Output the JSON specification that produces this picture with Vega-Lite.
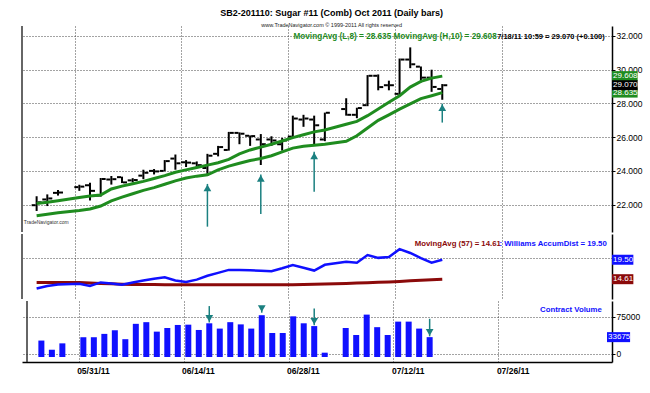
{
"$schema": "https://vega.github.io/schema/vega-lite/v6.json",
"background": "white",
"padding": {"left": 21, "top": 8, "right": 2, "bottom": 2},
"title": {"text": "SB2-201110:  Sugar #11 (Comb) Oct 2011  (Daily bars)", "subtitle": "www.TradeNavigator.com © 1999-2011 All rights reserved", "font": "Liberation Sans, Arial, sans-serif", "fontSize": 9, "fontWeight": "bold", "color": "#000", "subtitleFont": "Liberation Sans, Arial, sans-serif", "subtitleFontSize": 5.5, "subtitleColor": "#222", "subtitlePadding": 5, "anchor": "middle", "offset": -3},
"datasets": {
"px": [
{"d":"05/25/11","i":-4,"o":21.97,"h":22.50,"l":21.63,"c":22.14,"mah":22.07,"mal":21.35,"ad":12.25,"adma":13.80,"vol":26700},
{"d":"05/26/11","i":-3,"o":22.31,"h":22.61,"l":21.92,"c":22.37,"mah":22.14,"mal":21.44,"ad":12.91,"adma":13.80,"vol":8000},
{"d":"05/27/11","i":-2,"o":22.70,"h":22.87,"l":22.54,"c":22.72,"mah":22.23,"mal":21.52,"ad":13.27,"adma":13.80,"vol":21000},
{"d":"05/31/11","i":0,"o":23.04,"h":23.18,"l":22.82,"c":23.07,"mah":22.42,"mal":21.66,"ad":13.44,"adma":13.75,"vol":33500},
{"d":"06/01/11","i":1,"o":23.15,"h":23.30,"l":22.25,"c":22.82,"mah":22.51,"mal":21.75,"ad":12.91,"adma":13.65,"vol":33500},
{"d":"06/02/11","i":2,"o":22.54,"h":23.58,"l":22.48,"c":23.52,"mah":22.57,"mal":21.92,"ad":13.80,"adma":13.55,"vol":40300},
{"d":"06/03/11","i":3,"o":23.49,"h":23.70,"l":23.19,"c":23.51,"mah":22.93,"mal":22.23,"ad":13.55,"adma":13.45,"vol":47700},
{"d":"06/06/11","i":4,"o":23.63,"h":23.66,"l":23.28,"c":23.32,"mah":23.10,"mal":22.45,"ad":13.23,"adma":13.35,"vol":29500},
{"d":"06/07/11","i":5,"o":23.44,"h":23.57,"l":23.32,"c":23.46,"mah":23.24,"mal":22.65,"ad":13.76,"adma":13.30,"vol":60800},
{"d":"06/08/11","i":6,"o":23.72,"h":24.07,"l":23.51,"c":23.89,"mah":23.38,"mal":22.85,"ad":14.29,"adma":13.27,"vol":64200},
{"d":"06/09/11","i":7,"o":24.00,"h":24.11,"l":23.79,"c":23.97,"mah":23.55,"mal":23.01,"ad":14.72,"adma":13.25,"vol":44900},
{"d":"06/10/11","i":8,"o":24.00,"h":24.64,"l":23.98,"c":24.58,"mah":23.72,"mal":23.21,"ad":15.08,"adma":13.24,"vol":52300},
{"d":"06/13/11","i":9,"o":24.73,"h":24.97,"l":24.07,"c":24.45,"mah":23.92,"mal":23.41,"ad":14.29,"adma":13.23,"vol":58500},
{"d":"06/14/11","i":10,"o":24.51,"h":24.64,"l":24.23,"c":24.49,"mah":24.06,"mal":23.58,"ad":13.93,"adma":13.23,"vol":59100},
{"d":"06/15/11","i":11,"o":24.45,"h":24.56,"l":24.23,"c":24.34,"mah":24.20,"mal":23.69,"ad":14.50,"adma":13.23,"vol":48300},
{"d":"06/16/11","i":12,"o":24.17,"h":25.01,"l":23.70,"c":24.90,"mah":24.34,"mal":23.77,"ad":15.46,"adma":13.23,"vol":61900},
{"d":"06/17/11","i":13,"o":25.01,"h":25.48,"l":24.86,"c":25.41,"mah":24.48,"mal":24.06,"ad":16.20,"adma":13.23,"vol":51100},
{"d":"06/20/11","i":14,"o":25.24,"h":26.31,"l":25.20,"c":26.25,"mah":24.68,"mal":24.28,"ad":16.95,"adma":13.23,"vol":64200},
{"d":"06/21/11","i":15,"o":26.25,"h":26.28,"l":25.58,"c":26.20,"mah":25.01,"mal":24.45,"ad":16.91,"adma":13.23,"vol":59700},
{"d":"06/22/11","i":16,"o":26.08,"h":26.10,"l":25.48,"c":26.06,"mah":25.24,"mal":24.62,"ad":16.84,"adma":13.23,"vol":51100},
{"d":"06/23/11","i":17,"o":25.86,"h":26.18,"l":24.35,"c":25.58,"mah":25.41,"mal":24.73,"ad":16.74,"adma":13.23,"vol":78400},
{"d":"06/24/11","i":18,"o":25.86,"h":26.05,"l":25.48,"c":25.80,"mah":25.58,"mal":24.90,"ad":16.63,"adma":13.23,"vol":42100},
{"d":"06/27/11","i":19,"o":25.58,"h":25.95,"l":25.20,"c":25.80,"mah":25.77,"mal":25.13,"ad":17.37,"adma":13.23,"vol":42100},
{"d":"06/28/11","i":20,"o":26.03,"h":27.27,"l":25.95,"c":27.10,"mah":25.97,"mal":25.35,"ad":18.18,"adma":13.23,"vol":76100},
{"d":"06/29/11","i":21,"o":27.04,"h":27.32,"l":26.61,"c":27.10,"mah":26.14,"mal":25.46,"ad":17.48,"adma":13.27,"vol":61900},
{"d":"06/30/11","i":22,"o":27.04,"h":27.27,"l":25.58,"c":26.70,"mah":26.31,"mal":25.52,"ad":16.78,"adma":13.33,"vol":56200},
{"d":"07/01/11","i":23,"o":25.86,"h":27.45,"l":25.76,"c":27.44,"mah":26.42,"mal":25.58,"ad":18.22,"adma":13.40,"vol":2000},
{"d":"07/05/11","i":25,"o":27.66,"h":28.30,"l":27.27,"c":27.32,"mah":26.76,"mal":25.75,"ad":18.97,"adma":13.55,"vol":52300},
{"d":"07/06/11","i":26,"o":27.32,"h":27.74,"l":27.12,"c":27.72,"mah":26.93,"mal":26.08,"ad":18.76,"adma":13.63,"vol":38000},
{"d":"07/07/11","i":27,"o":27.89,"h":29.67,"l":27.83,"c":29.63,"mah":27.27,"mal":26.54,"ad":20.67,"adma":13.72,"vol":79600},
{"d":"07/08/11","i":28,"o":29.63,"h":29.71,"l":28.77,"c":28.96,"mah":27.66,"mal":26.99,"ad":19.97,"adma":13.82,"vol":54000},
{"d":"07/11/11","i":29,"o":29.07,"h":29.34,"l":28.77,"c":29.07,"mah":28.06,"mal":27.32,"ad":20.18,"adma":13.92,"vol":38000},
{"d":"07/12/11","i":30,"o":28.56,"h":30.65,"l":28.49,"c":30.59,"mah":28.45,"mal":27.66,"ad":22.16,"adma":14.05,"vol":65300},
{"d":"07/13/11","i":31,"o":30.59,"h":31.31,"l":30.08,"c":30.31,"mah":28.96,"mal":27.97,"ad":21.20,"adma":14.20,"vol":65300},
{"d":"07/14/11","i":32,"o":30.17,"h":30.18,"l":29.24,"c":29.52,"mah":29.30,"mal":28.28,"ad":19.93,"adma":14.35,"vol":51100},
{"d":"07/15/11","i":33,"o":29.52,"h":29.99,"l":28.68,"c":28.97,"mah":29.49,"mal":28.45,"ad":18.76,"adma":14.48,"vol":33675},
{"d":"07/18/11","i":34,"o":28.85,"h":29.14,"l":28.21,"c":29.07,"mah":29.608,"mal":28.635,"ad":19.50,"adma":14.61,"vol":null}
],
"parr": [{"i":12,"tail":20.70,"tip":23.23},{"i":17,"tail":21.45,"tip":23.79},{"i":22,"tail":22.76,"tip":25.13},{"i":34,"tail":26.86,"tip":27.98}],
"varr": [{"i":12,"tail":97000,"tip":63580},{"i":17,"tail":90000,"tip":83520},{"i":22,"tail":92045,"tip":57950},{"i":33,"tail":71080,"tip":35280}],
"tags": [{"p":"price","s":"L8","v":28.635,"t":"28.635"},{"p":"price","s":"H10","v":29.608,"t":"29.608"},{"p":"price","s":"last","v":29.07,"t":"29.070"},{"p":"ad","s":"AD","v":19.5,"t":"19.50"},{"p":"ad","s":"ADMA","v":14.61,"t":"14.61"},{"p":"vol","s":"VOL","v":33675,"t":"33675"}]
},
"spacing": 0,
"vconcat": [
{
"width": 590, "height": 206,
"layer": [
{"data": {"name": "px"}, "mark": {"type": "rule", "color": "#000", "strokeWidth": 2}, "encoding": {"x": {"field": "i", "type": "quantitative", "scale": {"domain": [-5.37, 49.9], "nice": false, "zero": false}, "axis": {"values": [-0.45, 9.55, 19.55, 29.55, 39.55], "grid": true, "labels": false, "ticks": false, "domain": false, "title": null}}, "y": {"field": "l", "type": "quantitative", "scale": {"domain": [20.68, 32.28], "nice": false, "zero": false}, "axis": {"orient": "right", "values": [22, 24, 26, 28, 30, 32], "format": ".3f", "grid": true, "tickSize": 3, "labelPadding": 1, "title": null}}, "y2": {"field": "h"}}},
{"data": {"name": "px"}, "mark": {"type": "tick", "orient": "horizontal", "size": 4, "thickness": 2, "xOffset": -3, "color": "#000", "opacity": 1}, "encoding": {"x": {"field": "i", "type": "quantitative"}, "y": {"field": "o", "type": "quantitative"}}},
{"data": {"name": "px"}, "mark": {"type": "tick", "orient": "horizontal", "size": 4, "thickness": 2, "xOffset": 3, "color": "#000", "opacity": 1}, "encoding": {"x": {"field": "i", "type": "quantitative"}, "y": {"field": "c", "type": "quantitative"}}},
{"data": {"name": "px"}, "mark": {"type": "line", "color": "#1f8c1f", "strokeWidth": 3}, "encoding": {"x": {"field": "i", "type": "quantitative"}, "y": {"field": "mah", "type": "quantitative"}}},
{"data": {"name": "px"}, "mark": {"type": "line", "color": "#1f8c1f", "strokeWidth": 3}, "encoding": {"x": {"field": "i", "type": "quantitative"}, "y": {"field": "mal", "type": "quantitative"}}},
{"data": {"values": [{}]}, "mark": {"type": "rule", "color": "#333", "strokeWidth": 1.5}, "encoding": {"x": {"datum": -5.37, "type": "quantitative"}}},
{"data": {"name": "parr"}, "mark": {"type": "rule", "color": "#1b8080", "strokeWidth": 1.5}, "encoding": {"x": {"field": "i", "type": "quantitative"}, "y": {"field": "tail", "type": "quantitative"}, "y2": {"field": "tip"}}},
{"data": {"name": "parr"}, "mark": {"type": "point", "shape": "triangle-up", "size": 60, "filled": true, "opacity": 1, "color": "#1b8080", "yOffset": 4}, "encoding": {"x": {"field": "i", "type": "quantitative"}, "y": {"field": "tip", "type": "quantitative"}}},
{"data": {"values": [{}]}, "mark": {"type": "text", "text": "MovingAvg (L,8) = 28.635  MovingAvg (H,10) = 29.608", "align": "right", "baseline": "middle", "fontSize": 8.2, "fontWeight": "bold", "color": "#1f8c1f"}, "encoding": {"x": {"datum": 39.1, "type": "quantitative"}, "y": {"datum": 31.94, "type": "quantitative"}}},
{"data": {"values": [{}]}, "mark": {"type": "text", "text": "7/18/11 10:59 = 29.070 (+0.100)", "align": "right", "baseline": "middle", "fontSize": 7.5, "fontWeight": "bold", "color": "#000"}, "encoding": {"x": {"datum": 49.22, "type": "quantitative"}, "y": {"datum": 31.94, "type": "quantitative"}}},
{"data": {"values": [{}]}, "mark": {"type": "text", "text": "TradeNavigator.com", "align": "left", "baseline": "middle", "fontSize": 5, "color": "#333"}, "encoding": {"x": {"datum": -5.2, "type": "quantitative"}, "y": {"datum": 20.96, "type": "quantitative"}}},
{"data": {"name": "tags"}, "transform": [{"filter": "datum.p == 'price'"}], "mark": {"type": "bar", "size": 10}, "encoding": {"x": {"datum": 49.9, "type": "quantitative"}, "x2": {"datum": 52.3}, "y": {"field": "v", "type": "quantitative"}, "color": {"field": "s", "type": "nominal", "legend": null, "scale": {"domain": ["L8", "H10", "last", "AD", "ADMA", "VOL"], "range": ["#1f8c1f", "#1f8c1f", "#000000", "#1010ff", "#8b0a0a", "#1010ff"]}}}},
{"data": {"name": "tags"}, "transform": [{"filter": "datum.p == 'price'"}], "mark": {"type": "text", "align": "left", "baseline": "middle", "fontSize": 8, "color": "#fff"}, "encoding": {"x": {"datum": 50.0, "type": "quantitative"}, "y": {"field": "v", "type": "quantitative"}, "text": {"field": "t"}}}
]
},
{
"width": 590, "height": 65,
"layer": [
{"data": {"name": "px"}, "mark": {"type": "line", "color": "#8b0a0a", "strokeWidth": 3}, "encoding": {"x": {"field": "i", "type": "quantitative", "scale": {"domain": [-5.37, 49.9], "nice": false, "zero": false}, "axis": {"values": [-0.45, 9.55, 19.55, 29.55, 39.55], "grid": true, "labels": false, "ticks": false, "domain": false, "title": null}}, "y": {"field": "adma", "type": "quantitative", "scale": {"domain": [10.89, 24.71], "nice": false, "zero": false}, "axis": {"orient": "right", "values": [20], "labels": false, "grid": true, "tickSize": 0, "title": null}}}},
{"data": {"name": "px"}, "mark": {"type": "line", "color": "#1010ff", "strokeWidth": 2.5}, "encoding": {"x": {"field": "i", "type": "quantitative"}, "y": {"field": "ad", "type": "quantitative"}}},
{"data": {"values": [{}]}, "mark": {"type": "rule", "color": "#333", "strokeWidth": 1.5}, "encoding": {"x": {"datum": -5.37, "type": "quantitative"}}},
{"data": {"values": [{}]}, "mark": {"type": "text", "text": "MovingAvg (57) = 14.61", "align": "right", "baseline": "middle", "fontSize": 7.8, "fontWeight": "bold", "color": "#8b0a0a"}, "encoding": {"x": {"datum": 39.49, "type": "quantitative"}, "y": {"datum": 23.33, "type": "quantitative"}}},
{"data": {"values": [{}]}, "mark": {"type": "text", "text": ": Williams AccumDist = 19.50", "align": "right", "baseline": "middle", "fontSize": 7.8, "fontWeight": "bold", "color": "#1010ff"}, "encoding": {"x": {"datum": 49.41, "type": "quantitative"}, "y": {"datum": 23.33, "type": "quantitative"}}},
{"data": {"name": "tags"}, "transform": [{"filter": "datum.p == 'ad'"}], "mark": {"type": "bar", "size": 10}, "encoding": {"x": {"datum": 49.9, "type": "quantitative"}, "x2": {"datum": 51.9}, "y": {"field": "v", "type": "quantitative"}, "color": {"field": "s", "type": "nominal", "legend": null, "scale": {"domain": ["L8", "H10", "last", "AD", "ADMA", "VOL"], "range": ["#1f8c1f", "#1f8c1f", "#000000", "#1010ff", "#8b0a0a", "#1010ff"]}}}},
{"data": {"name": "tags"}, "transform": [{"filter": "datum.p == 'ad'"}], "mark": {"type": "text", "align": "left", "baseline": "middle", "fontSize": 8, "color": "#fff"}, "encoding": {"x": {"datum": 50.0, "type": "quantitative"}, "y": {"field": "v", "type": "quantitative"}, "text": {"field": "t"}}}
]
},
{
"width": 590, "height": 61,
"layer": [
{"data": {"name": "px"}, "mark": {"type": "bar", "size": 6, "color": "#1010ff"}, "encoding": {"x": {"field": "i", "type": "quantitative", "scale": {"domain": [-5.37, 49.9], "nice": false, "zero": false}, "axis": {"values": [-0.45, 9.55, 19.55, 29.55, 39.55], "grid": true, "labels": true, "ticks": false, "domain": true, "title": null, "labelAlign": "left", "labelPadding": 4, "labelOffset": -2, "labelFlush": false, "labelOverlap": false, "labelFontWeight": "bold", "labelExpr": "datum.value < 5 ? '05/31/11' : datum.value < 15 ? '06/14/11' : datum.value < 25 ? '06/28/11' : datum.value < 35 ? '07/12/11' : '07/26/11'"}}, "y": {"field": "vol", "type": "quantitative", "scale": {"domain": [-6818, 97159], "nice": false, "zero": false}, "axis": {"orient": "right", "values": [0, 75000], "format": "d", "grid": true, "tickSize": 3, "labelPadding": 1, "title": null}}, "y2": {"datum": -6818}}},
{"data": {"values": [{}]}, "mark": {"type": "rule", "color": "#333", "strokeWidth": 1.5}, "encoding": {"x": {"datum": -5.37, "type": "quantitative"}}},
{"data": {"name": "varr"}, "mark": {"type": "rule", "color": "#1b8080", "strokeWidth": 1.5}, "encoding": {"x": {"field": "i", "type": "quantitative"}, "y": {"field": "tail", "type": "quantitative"}, "y2": {"field": "tip"}}},
{"data": {"name": "varr"}, "mark": {"type": "point", "shape": "triangle-down", "size": 60, "filled": true, "opacity": 1, "color": "#1b8080", "yOffset": -4}, "encoding": {"x": {"field": "i", "type": "quantitative"}, "y": {"field": "tip", "type": "quantitative"}}},
{"data": {"values": [{}]}, "mark": {"type": "text", "text": "Contract Volume", "align": "right", "baseline": "middle", "fontSize": 7.8, "fontWeight": "bold", "color": "#1010ff"}, "encoding": {"x": {"datum": 49.41, "type": "quantitative"}, "y": {"datum": 88636, "type": "quantitative"}}},
{"data": {"name": "tags"}, "transform": [{"filter": "datum.p == 'vol'"}], "mark": {"type": "bar", "size": 10}, "encoding": {"x": {"datum": 49.9, "type": "quantitative"}, "x2": {"datum": 52.1}, "y": {"field": "v", "type": "quantitative"}, "color": {"field": "s", "type": "nominal", "legend": null, "scale": {"domain": ["L8", "H10", "last", "AD", "ADMA", "VOL"], "range": ["#1f8c1f", "#1f8c1f", "#000000", "#1010ff", "#8b0a0a", "#1010ff"]}}}},
{"data": {"name": "tags"}, "transform": [{"filter": "datum.p == 'vol'"}], "mark": {"type": "text", "align": "left", "baseline": "middle", "fontSize": 8, "color": "#fff"}, "encoding": {"x": {"datum": 50.0, "type": "quantitative"}, "y": {"field": "v", "type": "quantitative"}, "text": {"field": "t"}}}
]
}
],
"config": {
"font": "Liberation Sans, Arial, sans-serif",
"view": {"stroke": null},
"axis": {"gridDash": [1, 2], "gridColor": "#333", "gridOpacity": 0.9, "gridWidth": 1, "domainColor": "#000", "domainWidth": 1.5, "tickColor": "#000", "labelFont": "Liberation Sans, Arial, sans-serif", "labelFontSize": 8.5, "labelColor": "#000"},
"text": {"font": "Liberation Sans, Arial, sans-serif"}
}
}
